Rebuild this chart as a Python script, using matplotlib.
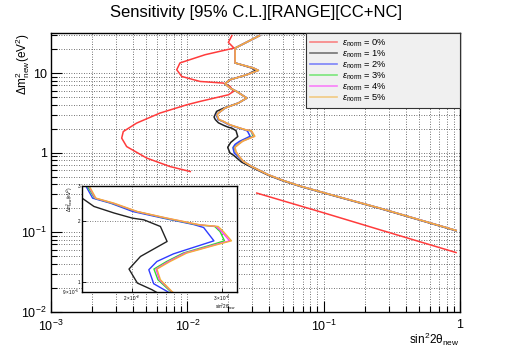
import matplotlib
matplotlib.use('Agg')
import matplotlib.pyplot as plt
from matplotlib.ticker import LogLocator, NullFormatter, NullLocator

plt.rcParams['font.family'] = ['Liberation Sans', 'DejaVu Sans']
plt.rcParams['mathtext.fontset'] = 'custom'
plt.rcParams['mathtext.rm'] = 'Liberation Sans'
plt.rcParams['mathtext.it'] = 'Liberation Sans:italic'
plt.rcParams['mathtext.bf'] = 'Liberation Sans:bold'

# ---- data (sin^2 2theta, dm^2) ----
labels = ['0%', '1%', '2%', '3%', '4%', '5%']
colors = ['#ff3b3b', '#222222', '#2f3cff', '#2ee02e', '#ff33ff', '#f2b13a']

# 0% curve: closed-ish part at small mixing and straight tail
red_hi_x = [0.0212, 0.0200, 0.0220, 0.0135, 0.00883, 0.00836, 0.0091, 0.0124, 0.0184, 0.0206,
            0.0218, 0.0200, 0.0124, 0.0099, 0.0063, 0.00425, 0.00339, 0.0033, 0.00359, 0.00504,
            0.00746, 0.0105]
red_hi_y = [29.5, 24.3, 20.6, 17.0, 13.4, 11.0, 9.06, 7.84, 7.48, 6.78,
            5.87, 5.33, 4.40, 3.99, 3.14, 2.35, 1.84, 1.52, 1.19, 0.853,
            0.668, 0.578]
red_lo_x = [0.0323, 0.1, 0.259, 0.936]
red_lo_y = [0.31, 0.175, 0.107, 0.0554]

# shared upper part (dm2 > 3) for 2-5%
upper_x = [0.0338, 0.0224, 0.0224, 0.0305, 0.0332, 0.0273, 0.0206, 0.0189, 0.0206, 0.0230,
           0.0273, 0.0237, 0.0189, 0.0169]
upper_y = [29.5, 20.6, 13.4, 11.56, 10.8, 9.52, 8.24, 7.33, 6.47, 5.87,
           4.85, 4.20, 3.63, 3.14]
# shared tail (dm2 < 0.9) for 2-5%
tail_x = [0.0258, 0.0297, 0.0393, 0.0505, 0.0689, 0.1024, 0.259, 0.936]
tail_y = [0.773, 0.668, 0.526, 0.446, 0.375, 0.31, 0.2, 0.105]

# 1%
black_x = [0.0338, 0.0224, 0.0224, 0.0300, 0.0318, 0.0273, 0.0206, 0.0189, 0.0206, 0.0230,
           0.0273, 0.0237, 0.0185, 0.0164, 0.0157, 0.01603, 0.0169, 0.01849, 0.02006, 0.02113,
           0.02275, 0.02344, 0.02224, 0.02081, 0.01977, 0.02052, 0.0219, 0.0250, 0.0297, 0.0393,
           0.0505, 0.0689, 0.1024, 0.259, 0.936]
black_y = [29.5, 20.6, 13.4, 11.5, 10.9, 9.52, 8.24, 7.33, 6.47, 5.87,
           4.85, 4.20, 3.63, 3.3, 2.8, 2.604, 2.37, 2.20, 2.076, 2.036,
           1.888, 1.592, 1.477, 1.343, 1.164, 0.993, 0.921, 0.76, 0.652, 0.518,
           0.44, 0.371, 0.307, 0.198, 0.104]

# middle parts (0.9 < dm2 < 3), from the zoomed inset
blue_mid_x = [0.0163, 0.0168, 0.0182, 0.0201, 0.0230, 0.0264, 0.0276, 0.0289, 0.02413, 0.0224,
              0.0216, 0.02208, 0.02344]
blue_mid_y = [2.99, 2.604, 2.46, 2.238, 2.076, 1.93, 1.866, 1.604, 1.384, 1.269,
              1.155, 0.985, 0.903]
mid_y = [2.99, 2.604, 2.46, 2.238, 2.076, 1.924, 1.888, 1.783, 1.604, 1.533,
         1.396, 1.269, 1.164, 1.031, 0.903]
green_mid_x = [0.0164, 0.01695, 0.0183, 0.0204, 0.0232, 0.0268, 0.0290, 0.0297, 0.0303, 0.0286,
               0.0252, 0.0234, 0.0221, 0.0225, 0.0238]
magenta_mid_x = [0.0165, 0.0170, 0.0184, 0.02045, 0.02335, 0.0270, 0.0292, 0.0299, 0.0310, 0.0290,
                 0.0254, 0.0236, 0.0223, 0.02265, 0.0239]
orange_mid_x = [0.01655, 0.01705, 0.01849, 0.02052, 0.02344, 0.02716, 0.02946, 0.03014, 0.03126, 0.02924,
                0.0256, 0.02377, 0.0224, 0.02275, 0.02395]

series = [
    (black_x, black_y),
    (upper_x + blue_mid_x + tail_x, upper_y + blue_mid_y + tail_y),
    (upper_x + green_mid_x + tail_x, upper_y + mid_y + tail_y),
    (upper_x + magenta_mid_x + tail_x, upper_y + mid_y + tail_y),
    (upper_x + orange_mid_x + tail_x, upper_y + mid_y + tail_y),
]

W, H = 512, 347
fig = plt.figure(figsize=(W / 100, H / 100), dpi=100)

ax = fig.add_axes([51 / W, 1 - 311.7 / H, 409 / W, 278.4 / H])
ax.set_xscale('log')
ax.set_yscale('log')


def draw(a, lw):
    a.plot(red_hi_x, red_hi_y, color=colors[0], lw=lw, label=r'$\epsilon_{\mathrm{norm}}$ = ' + labels[0])
    a.plot(red_lo_x, red_lo_y, color=colors[0], lw=lw)
    for (sx, sy), c, lab in zip(series, colors[1:], labels[1:]):
        a.plot(sx, sy, color=c, lw=lw, label=r'$\epsilon_{\mathrm{norm}}$ = ' + lab)


draw(ax, 1.1)
ax.set_xlim(1e-3, 1)
ax.set_ylim(1e-2, 31.6)

ax.set_xticks([1e-3, 1e-2, 1e-1, 1], [r'$10^{-3}$', r'$10^{-2}$', r'$10^{-1}$', '1'])
ax.set_yticks([1e-2, 1e-1, 1, 10], [r'$10^{-2}$', r'$10^{-1}$', '1', '10'])
ax.xaxis.set_minor_locator(LogLocator(base=10, subs=range(2, 10), numticks=20))
ax.yaxis.set_minor_locator(LogLocator(base=10, subs=range(2, 10), numticks=20))
ax.xaxis.set_minor_formatter(NullFormatter())
ax.yaxis.set_minor_formatter(NullFormatter())
ax.tick_params(which='major', direction='in', length=8, width=0.8, labelsize=9, pad=3)
ax.tick_params(axis='x', which='major', pad=5)
ax.tick_params(which='minor', direction='in', length=4, width=0.8)
ax.grid(True, which='both', color='#444444', lw=0.6, linestyle=(0, (1, 2)))
for s in ax.spines.values():
    s.set_linewidth(1.0)

fig.text(0.5, 1 - 12 / H, 'Sensitivity [95% C.L.][RANGE][CC+NC]', ha='center', va='center', fontsize=12)
fig.text(459 / W, 1 - 339 / H, r'$\mathrm{sin^{2}2\theta_{new}}$', ha='right', va='center', fontsize=8.5)
fig.text(23 / W, 1 - 33 / H, r'$\Delta\mathrm{m^{2}_{new}(eV^{2})}$', ha='center', va='top',
         rotation=90, fontsize=8.5)

leg = ax.legend(loc='upper left', bbox_to_anchor=(306 / W, 1 - 104 / H, 154 / W, 71 / H),
                bbox_transform=fig.transFigure, mode='expand', fontsize=6.7, frameon=True,
                fancybox=False, borderaxespad=0, handlelength=2.9, handletextpad=0.5,
                labelspacing=-0.05, borderpad=0.45)
leg.get_frame().set_facecolor('#f0f0f0')
leg.get_frame().set_edgecolor('#333333')
leg.get_frame().set_linewidth(0.8)
leg.get_frame().set_alpha(1)
for ln in leg.get_lines():
    ln.set_alpha(0.6)
    ln.set_linewidth(1.2)

# zoomed inset
ins = fig.add_axes([81.7 / W, 1 - 291.7 / H, 155 / W, 106 / H])
ins.set_xscale('log')
ins.set_yscale('log')
draw(ins, 1.0)
ins.set_xlim(0.016, 0.032)
ins.set_ylim(0.9, 3)
ins.xaxis.set_minor_locator(NullLocator())
ins.yaxis.set_minor_locator(NullLocator())
ins.set_xticks([0.02, 0.03], [r'$2\times10^{-2}$', r'$3\times10^{-2}$'])
ins.set_yticks([0.9, 1, 2, 3], [r'$9\times10^{-1}$', '1', '2', '3'])
ins.tick_params(direction='in', length=3, width=0.6, labelsize=3.3, pad=1.2)
ins.grid(True, which='major', color='#555555', lw=0.6, linestyle=(0, (1, 2)))
ins.set_facecolor('white')
for s in ins.spines.values():
    s.set_linewidth(1.0)
fig.text(236 / W, 1 - 306.5 / H, r'$\mathrm{sin^{2}2\theta_{new}}$', ha='right', va='center', fontsize=3.3)
fig.text(70 / W, 1 - 186 / H, r'$\Delta\mathrm{m^{2}_{new}(eV^{2})}$', ha='center', va='top',
         rotation=90, fontsize=3.3)

fig.savefig('out.png', dpi=100)
